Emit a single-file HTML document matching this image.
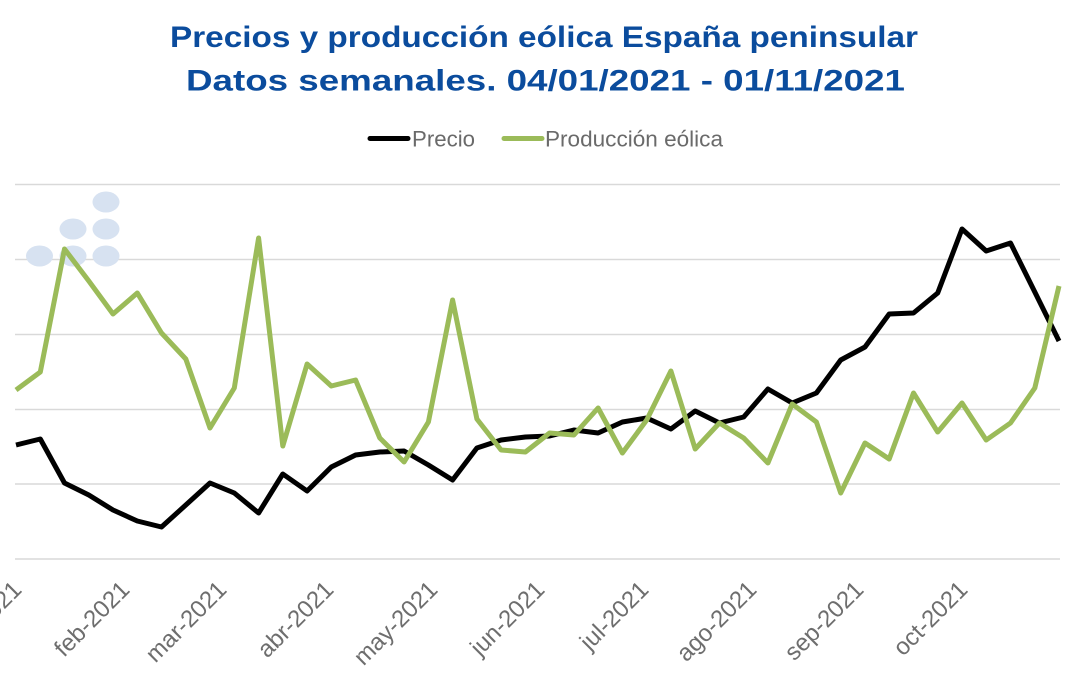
<!DOCTYPE html>
<html>
<head>
<meta charset="utf-8">
<style>
html,body{margin:0;padding:0;background:#fff;}
svg{display:block;}
</style>
</head>
<body>
<svg width="1080" height="675" viewBox="0 0 1080 675" xmlns="http://www.w3.org/2000/svg">
<rect width="1080" height="675" fill="#ffffff"/>
<!-- Title -->
<g font-family="Liberation Sans, sans-serif" font-weight="bold" fill="#0b4c9d" font-size="30">
<text x="170" y="47" textLength="748" lengthAdjust="spacingAndGlyphs">Precios y producción eólica España peninsular</text>
<text x="186" y="90.5" textLength="719" lengthAdjust="spacingAndGlyphs">Datos semanales. 04/01/2021 - 01/11/2021</text>
</g>
<!-- Legend -->
<line x1="370" y1="138.5" x2="408" y2="138.5" stroke="#000" stroke-width="5" stroke-linecap="round"/>
<text x="412" y="146.5" font-family="Liberation Sans, sans-serif" font-size="22" fill="#6a6a6a" textLength="63" lengthAdjust="spacingAndGlyphs">Precio</text>
<line x1="504" y1="138.5" x2="542" y2="138.5" stroke="#9bbb59" stroke-width="5" stroke-linecap="round"/>
<text x="545" y="146.5" font-family="Liberation Sans, sans-serif" font-size="22" fill="#6a6a6a" textLength="178" lengthAdjust="spacingAndGlyphs">Producción eólica</text>
<!-- Gridlines -->
<g stroke="#d9d9d9" stroke-width="1.5">
<line x1="15" y1="184.5" x2="1060" y2="184.5"/>
<line x1="15" y1="259.5" x2="1060" y2="259.5"/>
<line x1="15" y1="334.5" x2="1060" y2="334.5"/>
<line x1="15" y1="409.5" x2="1060" y2="409.5"/>
<line x1="15" y1="484" x2="1060" y2="484"/>
<line x1="15" y1="559" x2="1060" y2="559"/>
</g>
<!-- Watermark dots -->
<g fill="#d7e2f1">
<ellipse cx="39.5" cy="256" rx="13.5" ry="10.5"/>
<ellipse cx="73" cy="229" rx="13.5" ry="10.5"/>
<ellipse cx="73" cy="256" rx="13.5" ry="10.5"/>
<ellipse cx="106" cy="202" rx="13.5" ry="10.5"/>
<ellipse cx="106" cy="229" rx="13.5" ry="10.5"/>
<ellipse cx="106" cy="256" rx="13.5" ry="10.5"/>
</g>
<!-- Series -->
<polyline fill="none" stroke="#000" stroke-width="5" stroke-linejoin="round" points="16,445 40.3,439 64.5,483 88.8,495 113,510 137.3,521 161.5,527 185.8,505 210,483 234.3,493 258.6,513 282.8,474 307.1,491 331.3,467 355.6,455 379.8,452 404.1,451 428.4,465 452.6,480 476.9,448 501.1,440 525.4,437 549.6,436 573.9,430 598.1,433 622.4,422 646.7,418 670.9,429 695.2,411 719.4,423 743.7,417 767.9,389 792.2,403 816.4,393 840.7,360 865,347 889.2,314 913.5,313 937.7,293 962,229 986.2,251 1010.5,243 1034.8,292 1059,341"/>
<polyline fill="none" stroke="#9bbb59" stroke-width="5" stroke-linejoin="round" points="16,390 40.3,372 64.5,249 88.8,281 113,314 137.3,293 161.5,333 185.8,359 210,428 234.3,388 258.6,238 282.8,446 307.1,364 331.3,386 355.6,380 379.8,438 404.1,462 428.4,422 452.6,300 476.9,419 501.1,450 525.4,452 549.6,433 573.9,435 598.1,408 622.4,453 646.7,420 670.9,371 695.2,449 719.4,423 743.7,438 767.9,463 792.2,404 816.4,422 840.7,493 865,443 889.2,459 913.5,393 937.7,432 962,403 986.2,440 1010.5,423 1034.8,388 1059,286"/>
<!-- Axis labels -->
<g font-family="Liberation Sans, sans-serif" font-size="24" fill="#6e6e6e" text-anchor="end">
<text x="23" y="591" transform="rotate(-45 23 591)">ene-2021</text>
<text x="131" y="591" transform="rotate(-45 131 591)">feb-2021</text>
<text x="228" y="591" transform="rotate(-45 228 591)">mar-2021</text>
<text x="335" y="591" transform="rotate(-45 335 591)">abr-2021</text>
<text x="439" y="591" transform="rotate(-45 439 591)">may-2021</text>
<text x="546" y="591" transform="rotate(-45 546 591)">jun-2021</text>
<text x="650" y="591" transform="rotate(-45 650 591)">jul-2021</text>
<text x="758" y="591" transform="rotate(-45 758 591)">ago-2021</text>
<text x="865" y="591" transform="rotate(-45 865 591)">sep-2021</text>
<text x="969" y="591" transform="rotate(-45 969 591)">oct-2021</text>
</g>
</svg>
</body>
</html>
